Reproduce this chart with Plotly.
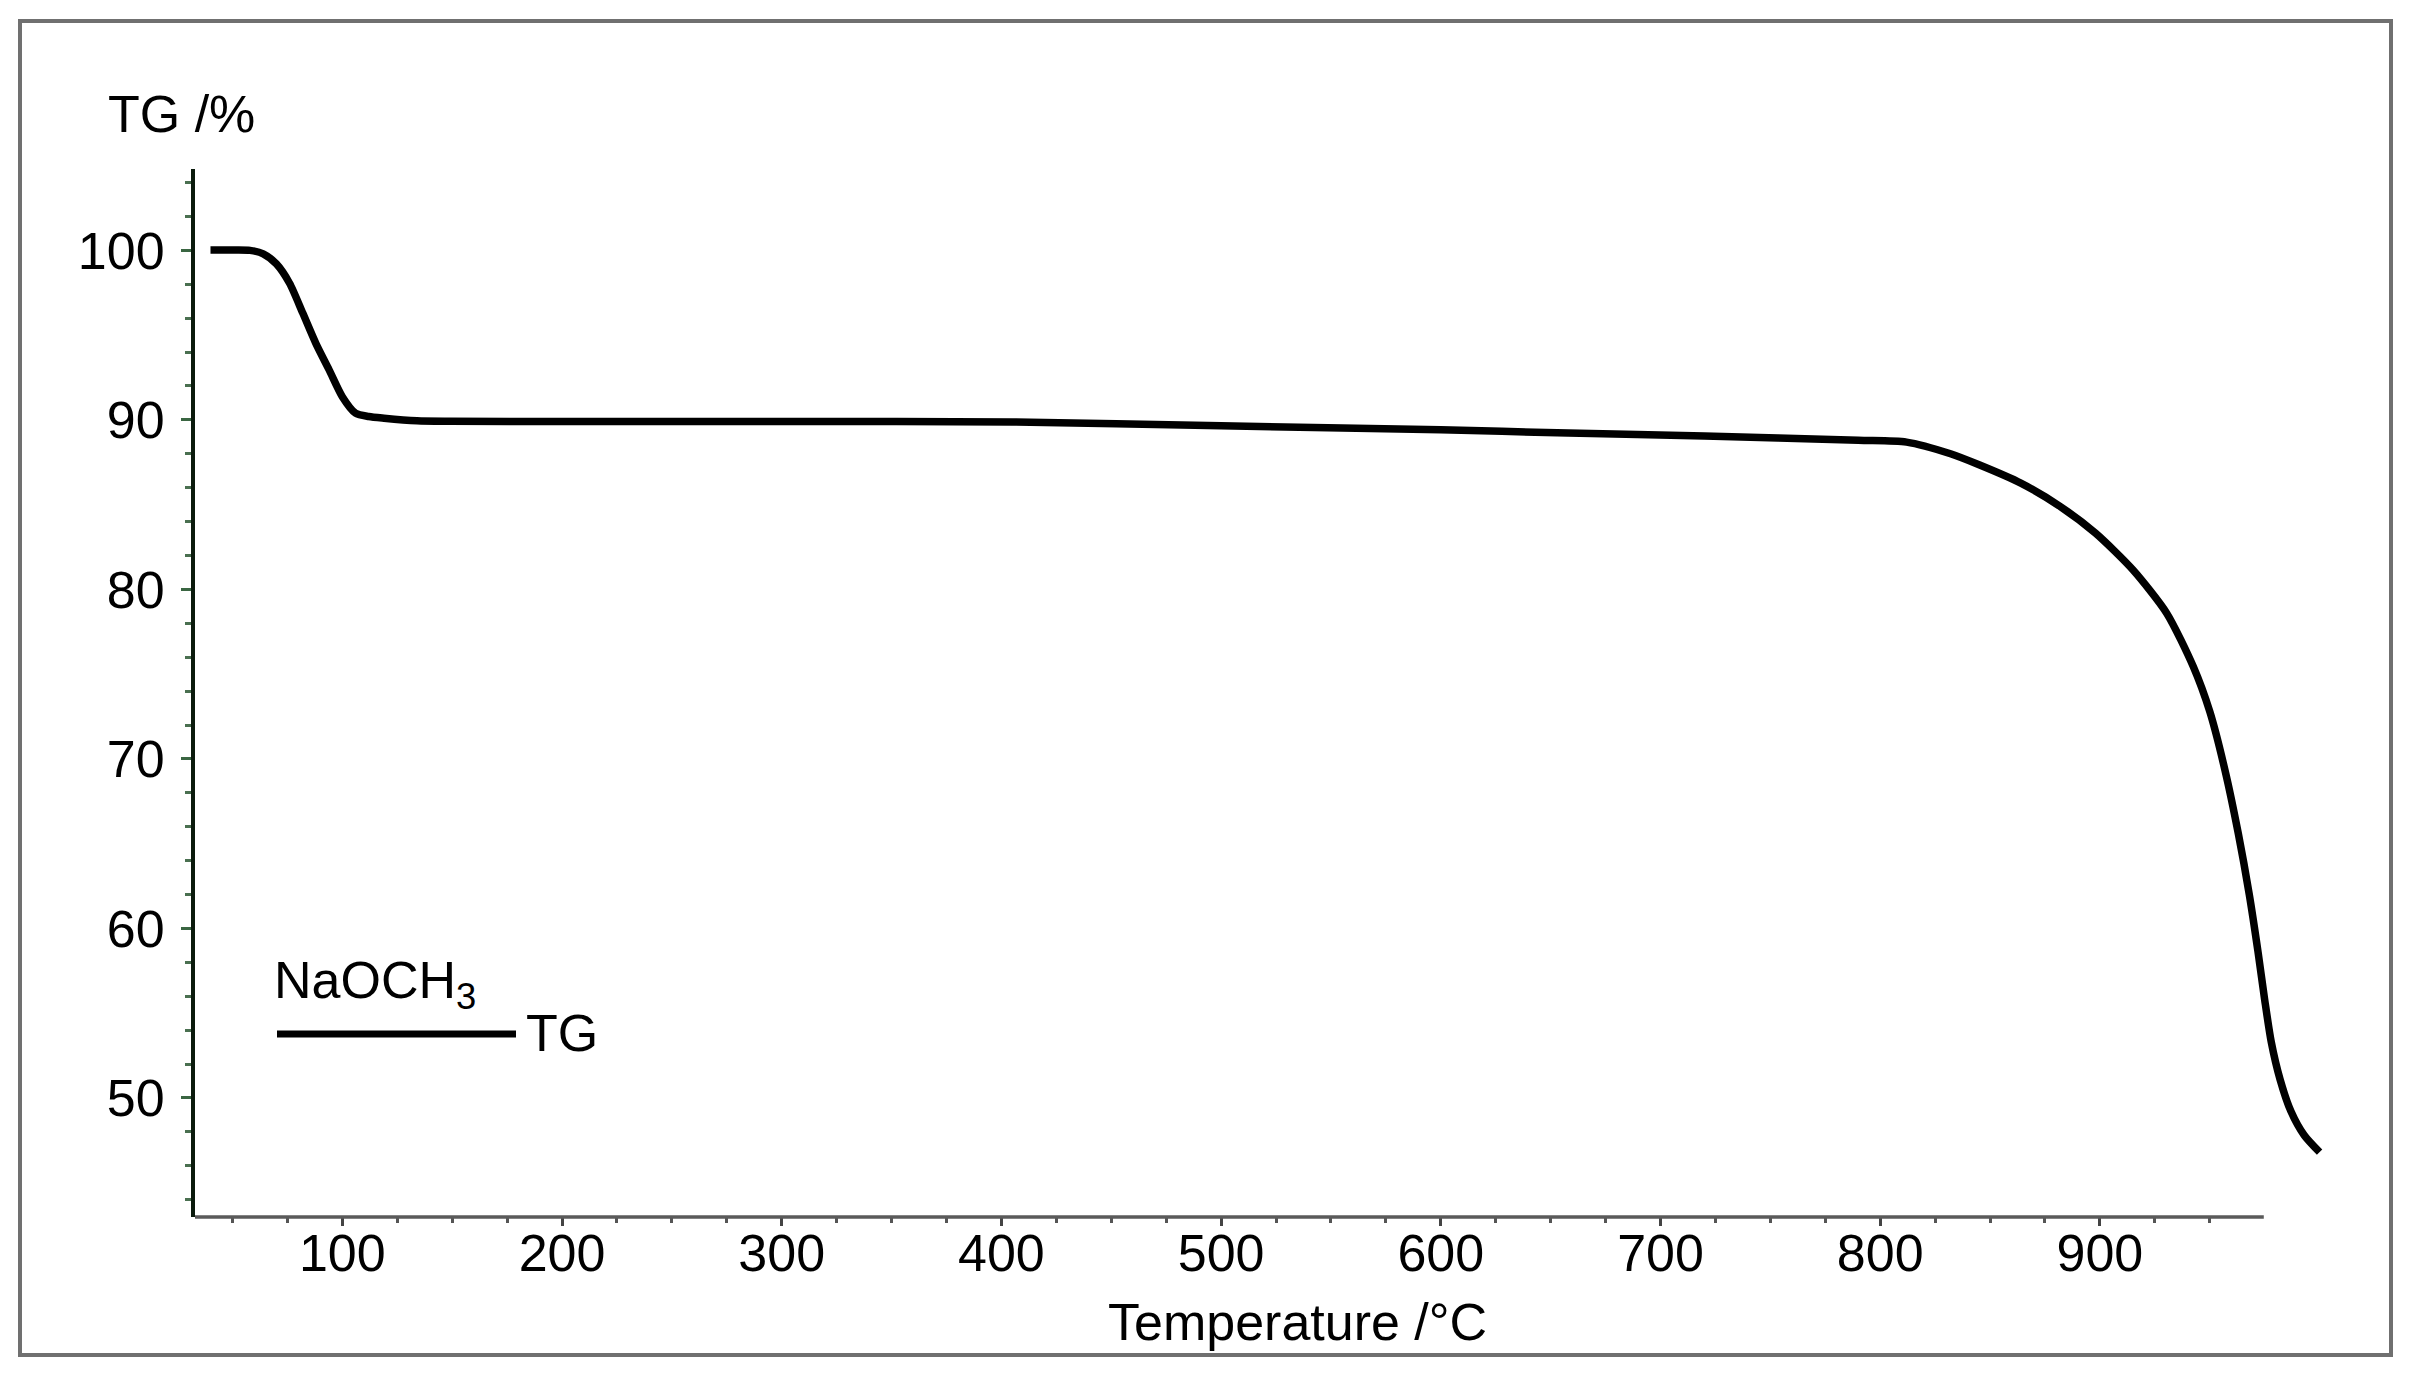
import plotly.graph_objects as go

# ---- data ----
temperature = [40, 50, 58, 64, 70, 76, 82, 88, 94, 100, 106, 112, 119, 134, 149, 200, 300, 405,
               500, 600, 658, 720, 790, 812, 832, 845, 864, 882, 898, 915, 930.4, 942.5, 950,
               957, 963, 968, 972, 975, 978, 982, 987, 993, 1000]
tg_percent = [100.02, 100.02, 100.0, 99.8, 99.2, 98.06, 96.3, 94.5, 92.95, 91.37, 90.4, 90.2, 90.1,
              89.95, 89.92, 89.9, 89.9, 89.88, 89.65, 89.42, 89.22, 89.05, 88.8, 88.69, 88.0, 87.35,
              86.27, 84.89, 83.32, 81.16, 78.6, 75.45, 72.8, 69.3, 65.6, 62.0, 58.6, 55.8, 53.3,
              51.1, 49.2, 47.8, 46.8]

x_major = [100, 200, 300, 400, 500, 600, 700, 800, 900]
x_minor = [v for v in range(50, 951, 25) if v % 100 != 0]
y_major = [50, 60, 70, 80, 90, 100]
y_minor = [v for v in range(44, 105, 2) if v % 10 != 0]

series_name = "TG"
sample_label = "NaOCH<sub>3</sub>"
x_title = "Temperature /°C"
y_title = "TG /%"

# ---- layout geometry (page has an 8px body margin) ----
OFF = 8
W, H = 2409 - 2 * OFF, 1374 - 2 * OFF
PL, PR, PT, PB = 195 - OFF, 2342 - OFF, 169 - OFF, 1217 - OFF
ML, MR, MT, MB = PL, W - PR, PT, H - PB
FONT = "Liberation Sans, Arial, sans-serif"
FS = 52


def px_x(p):
    return (p - OFF - PL) / (PR - PL)


def px_y(p):
    return (PB - (p - OFF)) / (PB - PT)


fig = go.Figure()
fig.add_trace(go.Scatter(
    x=temperature, y=tg_percent, mode="lines", name=series_name,
    line=dict(color="black", width=7.5, shape="spline", smoothing=0.7),
    showlegend=False, hoverinfo="x+y",
))

fig.update_layout(
    width=W, height=H,
    margin=dict(l=ML, r=MR, t=MT, b=MB, pad=0),
    paper_bgcolor="white", plot_bgcolor="white",
    font=dict(family=FONT, size=FS, color="black"),
    xaxis=dict(
        range=[32.95, 1010.2], showgrid=False, zeroline=False, showline=False,
        tickmode="array", tickvals=x_major, ticktext=[str(v) for v in x_major],
        ticks="outside", ticklen=8, tickwidth=2.5, tickcolor="#444444",
        tickfont=dict(family=FONT, size=FS, color="black"),
        minor=dict(tickmode="array", tickvals=x_minor, ticks="outside",
                   ticklen=5, tickwidth=2.5, tickcolor="#555555", showgrid=False),
        ticklabelstandoff=-17,
    ),
    yaxis=dict(
        range=[42.98, 104.8], showgrid=False, zeroline=False,
        showline=True, linecolor="#0a1a0c", linewidth=4,
        tickmode="array", tickvals=y_major, ticktext=[str(v) for v in y_major],
        ticks="outside", ticklen=10, tickwidth=2.5, tickcolor="#3a6642",
        tickfont=dict(family=FONT, size=FS, color="black"),
        minor=dict(tickmode="array", tickvals=y_minor, ticks="outside",
                   ticklen=6, tickwidth=2.5, tickcolor="#4a7050", showgrid=False),
        ticklabelstandoff=6,
    ),
)

shapes = [
    # x axis line (shorter than the data extent, as in the reference)
    dict(type="line", xref="x", yref="paper", x0=32.95, x1=974.6, y0=0, y1=0,
         line=dict(color="#5a5a5a", width=3.5)),
    # outer frame
    dict(type="rect", xref="paper", yref="paper",
         x0=px_x(20), x1=px_x(2391), y0=px_y(1355), y1=px_y(21),
         line=dict(color="#707070", width=4), fillcolor="rgba(0,0,0,0)", layer="below"),
    # legend sample line
    dict(type="line", xref="paper", yref="paper",
         x0=px_x(277), x1=px_x(516), y0=px_y(1034), y1=px_y(1034),
         line=dict(color="black", width=7)),
]
fig.update_layout(shapes=shapes)

annotations = [
    dict(text=y_title, x=px_x(181), y=px_y(114), xref="paper", yref="paper",
         xanchor="center", yanchor="middle", showarrow=False,
         font=dict(family=FONT, size=FS, color="black")),
    dict(text=x_title, x=px_x(1297), y=px_y(1322), xref="paper", yref="paper",
         xanchor="center", yanchor="middle", showarrow=False,
         font=dict(family=FONT, size=FS, color="black")),
    dict(text=sample_label, x=px_x(272), y=px_y(984), xref="paper", yref="paper",
         xanchor="left", yanchor="middle", showarrow=False,
         font=dict(family=FONT, size=FS, color="black")),
    dict(text=series_name, x=px_x(524), y=px_y(1033), xref="paper", yref="paper",
         xanchor="left", yanchor="middle", showarrow=False,
         font=dict(family=FONT, size=FS, color="black")),
]
fig.update_layout(annotations=annotations)

fig.write_html("out.html")
